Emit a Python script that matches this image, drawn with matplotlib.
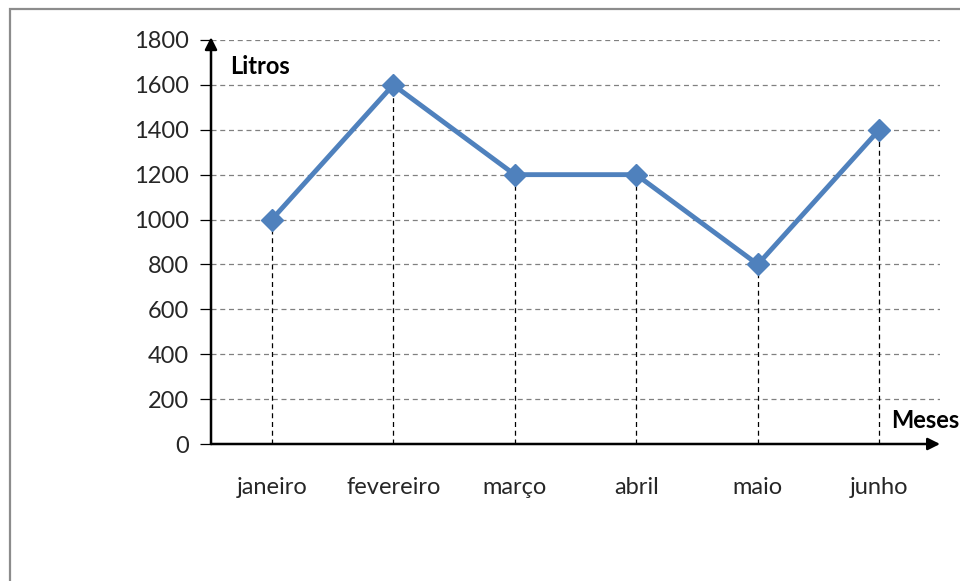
import matplotlib.pyplot as plt
from matplotlib.patches import Rectangle

# dados
meses = ['janeiro', 'fevereiro', 'março', 'abril', 'maio', 'junho']
litros = [1000, 1600, 1200, 1200, 800, 1400]
yticks = [0, 200, 400, 600, 800, 1000, 1200, 1400, 1600, 1800]

plt.rcParams['font.family'] = ['Lato', 'DejaVu Sans']

fig = plt.figure(figsize=(9.6, 5.81), dpi=100)
ax = fig.add_axes([0.2198, 0.2358, 0.7594, 0.6954])

x = list(range(len(meses)))

# grades horizontais
for v in yticks[1:]:
    ax.axhline(v, color='#808080', lw=0.9, ls=(0, (4, 3)), zorder=1)

# linhas verticais tracejadas
ax.vlines(x, 0, litros, colors='black', lw=0.9, linestyles=(0, (4, 3)), zorder=2)

ax.plot(x, litros, color='#4F81BD', lw=3.5, marker='D', markersize=11,
        markeredgecolor='#4F81BD', zorder=3)

ax.set_xlim(-0.5, 5.5)
ax.set_ylim(0, 1800)
ax.set_yticks(yticks)
ax.set_xticks(x)
ax.set_xticklabels(meses)
ax.tick_params(axis='x', length=0, pad=24, labelsize=17, labelcolor='#262626')
ax.tick_params(axis='y', length=8, width=0.9, pad=8, labelsize=17,
               labelcolor='#262626', color='black')

for s in ax.spines.values():
    s.set_visible(False)

# eixos com setas
ax.annotate('', xy=(0, 1.007), xytext=(0, 0), xycoords='axes fraction',
            arrowprops=dict(arrowstyle='-|>', color='black', lw=1.8,
                            mutation_scale=18, shrinkA=0, shrinkB=0), annotation_clip=False)
ax.annotate('', xy=(1.0, 0), xytext=(0, 0), xycoords='axes fraction',
            arrowprops=dict(arrowstyle='-|>', color='black', lw=1.8,
                            mutation_scale=18, shrinkA=0, shrinkB=0), annotation_clip=False)

ax.text(230 / 960, 1 - 66 / 581, 'Litros', transform=fig.transFigure,
        fontsize=17, fontweight='bold', va='center', ha='left')
ax.text(891 / 960, 1 - 420 / 581, 'Meses', transform=fig.transFigure,
        fontsize=17, fontweight='bold', va='center', ha='left')

# moldura cinza
fig.add_artist(Rectangle((9.5 / 960, -0.1), 1.2, 1.1 - 9.5 / 581,
                         transform=fig.transFigure, fill=False,
                         edgecolor='#8c8c8c', lw=1.6))

fig.savefig('out.png', dpi=100)
